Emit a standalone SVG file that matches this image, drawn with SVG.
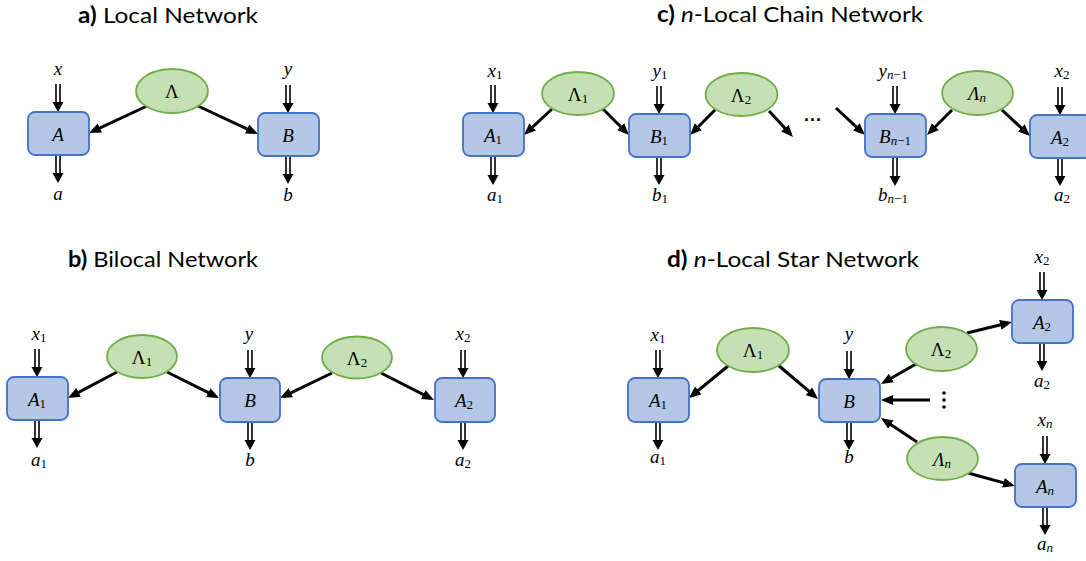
<svg xmlns="http://www.w3.org/2000/svg" xmlns:xlink="http://www.w3.org/1999/xlink" width="1086" height="561" viewBox="0 0 1086 561">
<style>
.title{font-family:Lato,"Open Sans","Liberation Sans",sans-serif;font-size:22px;fill:#000}
.box{fill:#B4C7E7;stroke:#4472C4;stroke-width:1.8}
.src{fill:#C5E0B4;stroke:#70AD47;stroke-width:1.8}
.m{font-family:"Liberation Serif","DejaVu Serif",serif;font-style:italic;font-size:19px;fill:#000;text-anchor:middle}
.u{font-style:normal}
.s{font-size:13px}
.arr{stroke:#000;stroke-width:3;fill:none;marker-end:url(#ah)}
</style>
<defs>
<marker id="ah" markerUnits="userSpaceOnUse" markerWidth="12" markerHeight="10" viewBox="0 0 12 10" refX="8" refY="5" orient="auto">
<path d="M0,0 L12,5 L0,10 z" fill="#000"/>
</marker>
<g id="dbl">
<line x1="-2" y1="0" x2="-2" y2="19" stroke="#000" stroke-width="1.6"/>
<line x1="2" y1="0" x2="2" y2="19" stroke="#000" stroke-width="1.6"/>
<path d="M-5.5,18 L5.5,18 L0,28 z" fill="#000"/>
</g>
</defs>
<rect width="1086" height="561" fill="#fff"/>

<!-- titles -->
<text class="title" x="78" y="23" textLength="180" lengthAdjust="spacingAndGlyphs"><tspan font-weight="bold">a)</tspan> Local Network</text>
<text class="title" x="657" y="22" textLength="266" lengthAdjust="spacingAndGlyphs"><tspan font-weight="bold">c)</tspan> <tspan font-style="italic">n</tspan>-Local Chain Network</text>
<text class="title" x="68" y="267" textLength="190" lengthAdjust="spacingAndGlyphs"><tspan font-weight="bold">b)</tspan> Bilocal Network</text>
<text class="title" x="667" y="267" textLength="252" lengthAdjust="spacingAndGlyphs"><tspan font-weight="bold">d)</tspan> <tspan font-style="italic">n</tspan>-Local Star Network</text>

<!-- connectors -->
<g id="connectors">
<line class="arr" x1="147" y1="106" x2="92.6" y2="131.3"/>
<line class="arr" x1="198" y1="106" x2="254.4" y2="132.3"/>

<line class="arr" x1="552" y1="109" x2="526.9" y2="132.3"/>
<line class="arr" x1="602" y1="108" x2="626.2" y2="132.2"/>
<line class="arr" x1="715" y1="110" x2="692.8" y2="132.2"/>
<line class="arr" x1="769" y1="111" x2="790.3" y2="134.1"/>
<line class="arr" x1="836" y1="108" x2="862.1" y2="132.3"/>
<line class="arr" x1="952" y1="110" x2="929.8" y2="132.2"/>
<line class="arr" x1="1002" y1="110" x2="1027.1" y2="133.3"/>

<line class="arr" x1="117" y1="372" x2="71.5" y2="396.1"/>
<line class="arr" x1="167" y1="372" x2="215.4" y2="396.2"/>
<line class="arr" x1="332" y1="373" x2="283.6" y2="396.3"/>
<line class="arr" x1="381" y1="373" x2="430.4" y2="398.2"/>

<line class="arr" x1="728" y1="366" x2="692.1" y2="395.5"/>
<line class="arr" x1="778" y1="365" x2="815" y2="396.4"/>
<line class="arr" x1="916" y1="364" x2="884.5" y2="382"/>
<line class="arr" x1="967" y1="333" x2="1008.1" y2="323"/>
<line class="arr" x1="930" y1="400" x2="885" y2="400"/>
<line class="arr" x1="917" y1="442" x2="884.3" y2="420.2"/>
<line class="arr" x1="968" y1="473" x2="1011.1" y2="484.9"/>

<!-- double arrows -->
<use xlink:href="#dbl" x="58" y="84"/><use xlink:href="#dbl" x="58" y="155"/>
<use xlink:href="#dbl" x="288" y="85"/><use xlink:href="#dbl" x="288" y="156"/>

<use xlink:href="#dbl" x="493" y="85"/><use xlink:href="#dbl" x="493" y="157"/>
<use xlink:href="#dbl" x="659" y="86"/><use xlink:href="#dbl" x="659" y="157"/>
<use xlink:href="#dbl" x="895" y="86"/><use xlink:href="#dbl" x="895" y="158"/>
<use xlink:href="#dbl" x="1060" y="87"/><use xlink:href="#dbl" x="1060" y="158"/>

<use xlink:href="#dbl" x="37" y="349"/><use xlink:href="#dbl" x="37" y="420"/>
<use xlink:href="#dbl" x="250" y="350"/><use xlink:href="#dbl" x="250" y="422"/>
<use xlink:href="#dbl" x="463" y="350"/><use xlink:href="#dbl" x="463" y="422"/>

<use xlink:href="#dbl" x="658" y="350"/><use xlink:href="#dbl" x="658" y="422"/>
<use xlink:href="#dbl" x="849" y="351"/><use xlink:href="#dbl" x="849" y="422"/>
<use xlink:href="#dbl" x="1042" y="272"/><use xlink:href="#dbl" x="1042" y="343"/>
<use xlink:href="#dbl" x="1045" y="436"/><use xlink:href="#dbl" x="1045" y="507"/>
</g>

<!-- panel a -->
<g id="a-A"><rect class="box" x="28" y="112" width="61" height="43" rx="7"/><text class="m" x="58" y="140.5">A</text></g>
<g id="a-B"><rect class="box" x="258" y="113" width="61" height="43" rx="7"/><text class="m" x="288" y="141.5">B</text></g>
<g id="a-L"><ellipse class="src" cx="172" cy="91" rx="36" ry="22"/><text class="m u" x="172" y="98">Λ</text></g>
<text class="m" x="58" y="75">x</text>
<text class="m" x="58" y="200">a</text>
<text class="m" x="288" y="75">y</text>
<text class="m" x="288" y="201">b</text>

<!-- panel c -->
<g id="c-A1"><rect class="box" x="463" y="113" width="61" height="43" rx="7"/><text class="m" x="493" y="141.5">A<tspan class="u s" dy="2">1</tspan></text></g>
<g id="c-B1"><rect class="box" x="629" y="114" width="61" height="43" rx="7"/><text class="m" x="659" y="142.5">B<tspan class="u s" dy="2">1</tspan></text></g>
<g id="c-Bn1"><rect class="box" x="865" y="114" width="61" height="43" rx="7"/><text class="m" x="895" y="142.5">B<tspan class="s" dy="2">n</tspan><tspan class="u s">−1</tspan></text></g>
<g id="c-A2"><rect class="box" x="1030" y="115" width="61" height="43" rx="7"/><text class="m" x="1060" y="143.5">A<tspan class="u s" dy="2">2</tspan></text></g>
<g id="c-L1"><ellipse class="src" cx="578" cy="93.5" rx="36" ry="21.5"/><text class="m u" x="578" y="100.5">Λ<tspan class="s" dy="2">1</tspan></text></g>
<g id="c-L2"><ellipse class="src" cx="741.5" cy="94.5" rx="36" ry="21.5"/><text class="m u" x="741" y="101.5">Λ<tspan class="s" dy="2">2</tspan></text></g>
<g id="c-Ln"><ellipse class="src" cx="977.5" cy="93" rx="35.5" ry="22"/><text class="m" x="977" y="100">Λ<tspan class="s" dy="2">n</tspan></text></g>
<text class="m" x="495" y="77">x<tspan class="u s" dy="2">1</tspan></text>
<text class="m" x="660" y="77">y<tspan class="u s" dy="2">1</tspan></text>
<text class="m" x="893" y="77">y<tspan class="s" dy="2">n</tspan><tspan class="u s">−1</tspan></text>
<text class="m" x="1062" y="77">x<tspan class="u s" dy="2">2</tspan></text>
<text class="m" x="495" y="201">a<tspan class="u s" dy="2">1</tspan></text>
<text class="m" x="660" y="201">b<tspan class="u s" dy="2">1</tspan></text>
<text class="m" x="893" y="201">b<tspan class="s" dy="2">n</tspan><tspan class="u s">−1</tspan></text>
<text class="m" x="1062" y="201">a<tspan class="u s" dy="2">2</tspan></text>
<text x="813" y="126" font-family="Liberation Sans,sans-serif" font-size="18" font-weight="bold" text-anchor="middle">···</text>

<!-- panel b -->
<g id="b-A1"><rect class="box" x="7" y="377" width="61" height="43" rx="7"/><text class="m" x="37" y="405.5">A<tspan class="u s" dy="2">1</tspan></text></g>
<g id="b-B"><rect class="box" x="220" y="378" width="60" height="44" rx="7"/><text class="m" x="250" y="407">B</text></g>
<g id="b-A2"><rect class="box" x="435" y="378" width="60" height="44" rx="7"/><text class="m" x="464" y="407">A<tspan class="u s" dy="2">2</tspan></text></g>
<g id="b-L1"><ellipse class="src" cx="142" cy="356.5" rx="35" ry="21.5"/><text class="m u" x="142" y="363.5">Λ<tspan class="s" dy="2">1</tspan></text></g>
<g id="b-L2"><ellipse class="src" cx="357" cy="357.5" rx="35" ry="21"/><text class="m u" x="357" y="364.5">Λ<tspan class="s" dy="2">2</tspan></text></g>
<text class="m" x="39" y="340">x<tspan class="u s" dy="2">1</tspan></text>
<text class="m" x="249" y="340">y</text>
<text class="m" x="463" y="340">x<tspan class="u s" dy="2">2</tspan></text>
<text class="m" x="39" y="466">a<tspan class="u s" dy="2">1</tspan></text>
<text class="m" x="250" y="466">b</text>
<text class="m" x="463" y="466">a<tspan class="u s" dy="2">2</tspan></text>

<!-- panel d -->
<g id="d-A1"><rect class="box" x="628" y="378" width="61" height="44" rx="7"/><text class="m" x="658" y="407">A<tspan class="u s" dy="2">1</tspan></text></g>
<g id="d-B"><rect class="box" x="819" y="379" width="61" height="43" rx="7"/><text class="m" x="849" y="407.5">B</text></g>
<g id="d-A2"><rect class="box" x="1012" y="300" width="61" height="43" rx="7"/><text class="m" x="1042" y="328.5">A<tspan class="u s" dy="2">2</tspan></text></g>
<g id="d-An"><rect class="box" x="1015" y="464" width="61" height="43" rx="7"/><text class="m" x="1045" y="492.5">A<tspan class="s" dy="2">n</tspan></text></g>
<g id="d-L1"><ellipse class="src" cx="753" cy="350" rx="36" ry="22"/><text class="m u" x="753" y="357">Λ<tspan class="s" dy="2">1</tspan></text></g>
<g id="d-L2"><ellipse class="src" cx="941.5" cy="349" rx="35.5" ry="22"/><text class="m u" x="941" y="356">Λ<tspan class="s" dy="2">2</tspan></text></g>
<g id="d-Ln"><ellipse class="src" cx="942.5" cy="458.5" rx="35.5" ry="21.5"/><text class="m" x="942" y="465.5">Λ<tspan class="s" dy="2">n</tspan></text></g>
<circle cx="944" cy="393" r="1.8"/><circle cx="944" cy="400" r="1.8"/><circle cx="944" cy="407" r="1.8"/>
<text class="m" x="658" y="341">x<tspan class="u s" dy="2">1</tspan></text>
<text class="m" x="849" y="340">y</text>
<text class="m" x="1042" y="263">x<tspan class="u s" dy="2">2</tspan></text>
<text class="m" x="1045" y="426">x<tspan class="s" dy="2">n</tspan></text>
<text class="m" x="658" y="463">a<tspan class="u s" dy="2">1</tspan></text>
<text class="m" x="849" y="463">b</text>
<text class="m" x="1042" y="387">a<tspan class="u s" dy="2">2</tspan></text>
<text class="m" x="1045" y="550">a<tspan class="s" dy="2">n</tspan></text>
</svg>
